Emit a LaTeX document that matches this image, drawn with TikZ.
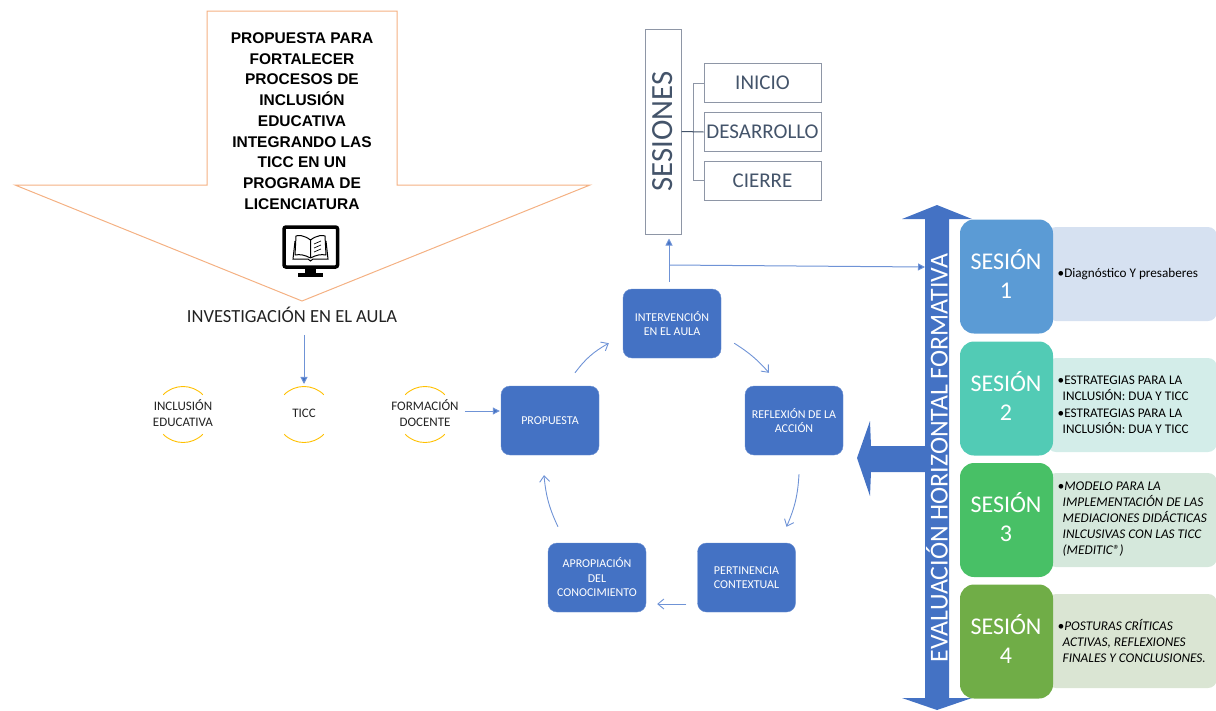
\documentclass[tikz,border=0pt]{standalone}
\usepackage{fontspec}
\setmainfont{Carlito}
\newfontfamily\titlefont{Liberation Sans}
\usetikzlibrary{arrows.meta}
\definecolor{azul}{HTML}{4472C4}
\definecolor{flecha}{HTML}{6F93D6}
\definecolor{naranja}{HTML}{F4B183}
\definecolor{amarillo}{HTML}{FFC000}
\definecolor{pizarra}{HTML}{44546A}
\definecolor{borde}{HTML}{8E96A6}
\definecolor{texto}{HTML}{222222}
\tikzset{
  bluebox/.style={draw=azul!80!white,fill=azul,rounded corners=9pt,minimum width=98pt,minimum height=69pt,
    text=white,align=center,inner sep=0pt,font=\fontsize{12}{14.5}\selectfont},
  graybox/.style={draw=borde,line width=1pt,minimum width=117pt,minimum height=39pt,inner sep=0pt,
    text=pizarra,font=\fontsize{21}{24}\selectfont},
  sesionbox/.style={rounded corners=14pt,minimum width=93pt,minimum height=114pt,inner sep=0pt},
  sesiontext/.style={text=white,align=center,inner sep=0pt,font=\fontsize{24}{29}\selectfont},
  palebox/.style={rounded corners=9pt,minimum width=170pt,minimum height=94pt,inner sep=0pt},
  paletext/.style={text=black,align=left,anchor=west,inner sep=0pt,font=\fontsize{13.2}{16}\selectfont},
  eje/.style={text=texto,align=center,inner sep=0pt,font=\fontsize{13}{16}\selectfont},
  yellowarc/.style={draw=amarillo,line width=0.9pt},
  blueline/.style={draw=flecha,line width=1pt,-{Triangle[length=7pt,width=7pt,fill=azul]}},
  cycleline/.style={draw=flecha,line width=0.9pt,-{Straight Barb[length=6pt,width=10pt]}},
}
\begin{document}
\begin{tikzpicture}[x=1pt,y=-1pt]
\useasboundingbox (0,0) rectangle (1216,710);
\draw[naranja,line width=1pt,line join=miter] (207,11)--(397,11)--(397,185)--(590,185)--(302,301)--(15,185)--(207,185)--cycle;
\draw node[align=center,inner sep=0pt,font=\titlefont\bfseries\fontsize{15.5}{20.7}\selectfont] (titulo) at (302,121)
  {PROPUESTA PARA\\FORTALECER\\PROCESOS DE\\INCLUSIÓN\\EDUCATIVA\\INTEGRANDO LAS\\TICC EN UN\\PROGRAMA DE\\LICENCIATURA};
\draw[black,fill=white,line width=3.5pt,rounded corners=2pt] (284,227) rectangle (337.5,267);
\fill[black] (305,267) rectangle (316,273);
\fill[black] (298,272.5) rectangle (323,277);
\draw[black,line width=1pt,line join=round] (310.5,240) .. controls (304,235) and (298,235) .. (296,236)--(295,255) .. controls (300,254) and (305,255) .. (310.5,258) .. controls (316,255) and (321,254) .. (326,255)--(325,236) .. controls (323,235) and (317,235) .. (310.5,240)--(310.5,258);
\draw[black,line width=1pt] (295,241)--(293,259)--(308,259)--(310.5,261)--(313,259)--(328,259)--(326,241);
\draw[black,line width=0.7pt] (314,244)--(321,241) (314,248)--(321,245) (314,252)--(321,249);
\draw node[text=texto,inner sep=0pt,font=\fontsize{18.5}{20}\selectfont] (investigacion) at (292,315) {INVESTIGACIÓN EN EL AULA};
\draw node[eje] (inclusion) at (183,413) {INCLUSIÓN\\EDUCATIVA};
\draw node[eje] (ticc) at (304,413) {TICC};
\draw node[eje] (formacion) at (425,413) {FORMACIÓN\\DOCENTE};
\foreach \c in {inclusion,ticc,formacion}{
  \draw[yellowarc] (\c) ++(-45:28) ++(0,1.5) arc[start angle=-45,end angle=-135,radius=28];
  \draw[yellowarc] (\c) ++(45:28) ++(0,1.5) arc[start angle=45,end angle=135,radius=28];
}
\draw node[bluebox] (propuesta) at (550,420.5) {PROPUESTA};
\draw node[bluebox] (intervencion) at (672,323.5) {INTERVENCIÓN\\EN EL AULA};
\draw node[bluebox] (reflexion) at (794,420.5) {REFLEXIÓN DE LA\\ACCIÓN};
\draw node[bluebox] (pertinencia) at (746.5,577.5) {PERTINENCIA\\CONTEXTUAL};
\draw node[bluebox] (apropiacion) at (597,577.5) {APROPIACIÓN\\DEL\\CONOCIMIENTO};
\draw[blueline,shorten <=12pt] (investigacion.south -| ticc) -- ++(0,61);
\draw[blueline,shorten >=1pt] (formacion.east |- 0,411) ++(6pt,0) coordinate (formacionsal) -- (formacionsal -| propuesta.west);
\coordinate (propsal) at ([shift={(25,-13)}]propuesta.north);
\coordinate (interent) at ([shift={(-14,-15)}]intervencion.south west);
\coordinate (intersal) at ([shift={(13,-15)}]intervencion.south east);
\coordinate (reflent) at ([shift={(-25,-13)}]reflexion.north);
\coordinate (reflsal) at ([shift={(5,19)}]reflexion.south);
\coordinate (pertent) at ([shift={(40,-16)}]pertinencia.north);
\coordinate (pertsal) at ([shift={(-11,26.5)}]pertinencia.west);
\coordinate (apropent) at ([shift={(11,26.5)}]apropiacion.east);
\coordinate (apropsal) at ([shift={(-39,-16)}]apropiacion.north);
\coordinate (propent) at ([shift={(-6,20)}]propuesta.south);
\draw[cycleline] (propsal) to[bend left=12] (interent);
\draw[cycleline] (intersal) to[bend left=8] (reflent);
\draw[cycleline] (reflsal) to[bend left=10] (pertent);
\draw[cycleline] (pertsal) -- (apropent);
\draw[cycleline] (apropsal) to[bend left=10] (propent);
\draw node[draw=borde,line width=1pt,minimum width=36pt,minimum height=205pt,inner sep=0pt] (sesiones) at (663,131.5) {};
\draw node[rotate=90,inner sep=0pt,text=pizarra,font=\fontsize{30.8}{32}\selectfont] (sesionestxt) at (663,131.5) {SESIONES};
\draw node[graybox] (inicio) at (762.5,83) {INICIO};
\draw node[graybox] (desarrollo) at (762.5,132) {DESARROLLO};
\draw node[graybox] (cierre) at (762.5,180.5) {CIERRE};
\draw[borde,line width=1pt] (sesiones.east) -- ++(11.5pt,0) coordinate (ramal) |- (inicio.west);
\draw[borde,line width=1pt] (ramal) |- (cierre.west);
\draw[pizarra,line width=1pt] (sesiones.east) -- (desarrollo.west);
\coordinate (cruce) at (669,265);
\coordinate (evalpunto) at (925,267);
\draw[blueline,shorten <=7pt,shorten >=4pt] (intervencion.north -| cruce) -- (sesiones.south -| cruce);
\draw[blueline] (cruce) -- (evalpunto);
\fill[azul] (937,205)--(972,219)--(949,219)--(949,698)--(972,698)--(937,710)--(902,698)--(925,698)--(925,472)--(871,472)--(870,496)--(857,458)--(870,421)--(871,446)--(925,446)--(925,219)--(902,219)--cycle;
\draw node[rotate=90,inner sep=0pt,text=white,font=\fontsize{25.8}{27}\selectfont] (evaluacion) at (937,458) {EVALUACIÓN HORIZONTAL FORMATIVA};
\draw node[palebox,fill={rgb,255:red,214;green,225;blue,241}] (pale1) at (1132,274) {};
\draw node[palebox,fill={rgb,255:red,211;green,237;blue,233}] (pale2) at (1132,405) {};
\draw node[palebox,fill={rgb,255:red,213;green,232;blue,220}] (pale3) at (1132,520) {};
\draw node[palebox,fill={rgb,255:red,218;green,229;blue,211}] (pale4) at (1132,641) {};
\draw node[sesionbox,fill={rgb,255:red,91;green,155;blue,213}] (sesion1) at (1006.5,276.5) {};
\draw node[sesionbox,fill={rgb,255:red,82;green,203;blue,181}] (sesion2) at (1006.5,398.5) {};
\draw node[sesionbox,fill={rgb,255:red,72;green,192;blue,102}] (sesion3) at (1006.5,520) {};
\draw node[sesionbox,fill={rgb,255:red,112;green,173;blue,71}] (sesion4) at (1006.5,641.5) {};
\draw node[sesiontext] (sesiontxt1) at (1006,273.5) {SESIÓN\\1};
\draw node[sesiontext] (sesiontxt2) at (1006,395.5) {SESIÓN\\2};
\draw node[sesiontext] (sesiontxt3) at (1006,517) {SESIÓN\\3};
\draw node[sesiontext] (sesiontxt4) at (1006,638.5) {SESIÓN\\4};
\draw node[paletext] (texto1) at (1057.5,274) {•Diagnóstico Y presaberes};
\draw node[paletext] (texto2) at (1057.5,405) {•ESTRATEGIAS PARA LA\\\hspace*{5pt}INCLUSIÓN: DUA Y TICC\\[1pt]•ESTRATEGIAS PARA LA\\\hspace*{5pt}INCLUSIÓN: DUA Y TICC};
\draw node[paletext,font=\itshape\fontsize{13.3}{16}\selectfont] (texto3) at (1057.5,519.5) {•MODELO PARA LA\\\hspace*{5pt}IMPLEMENTACIÓN DE LAS\\\hspace*{5pt}MEDIACIONES DIDÁCTICAS\\\hspace*{5pt}INLCUSIVAS CON LAS TICC\\\hspace*{5pt}(MEDITIC®)};
\draw node[paletext,font=\itshape\fontsize{13.3}{16}\selectfont] (texto4) at (1057.5,641) {•POSTURAS CRÍTICAS\\\hspace*{5pt}ACTIVAS, REFLEXIONES\\\hspace*{5pt}FINALES Y CONCLUSIONES.};
\end{tikzpicture}
\end{document}
